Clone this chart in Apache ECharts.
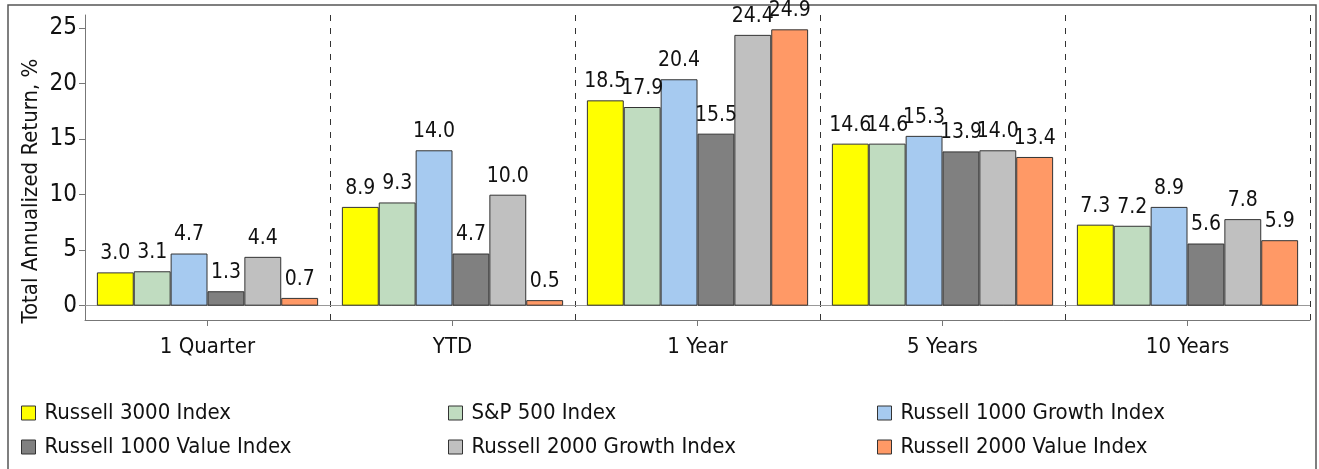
<!DOCTYPE html>
<html>
<head>
<meta charset="utf-8">
<script src="https://cdn.jsdelivr.net/npm/echarts@6/dist/echarts.min.js"></script>
<style>
html,body{margin:0;padding:0;background:#fff;}
#chart{width:1319px;height:469px;}
</style>
</head>
<body>
<div id="chart"></div>
<script>
var categories = ['1 Quarter', 'YTD', '1 Year', '5 Years', '10 Years'];
var seriesNames = ['Russell 3000 Index', 'S&P 500 Index', 'Russell 1000 Growth Index',
                   'Russell 1000 Value Index', 'Russell 2000 Growth Index', 'Russell 2000 Value Index'];
var russell3000 = [3.0, 8.9, 18.5, 14.6, 7.3];
var sp500 = [3.1, 9.3, 17.9, 14.6, 7.2];
var russell1000Growth = [4.7, 14.0, 20.4, 15.3, 8.9];
var russell1000Value = [1.3, 4.7, 15.5, 13.9, 5.6];
var russell2000Growth = [4.4, 10.0, 24.4, 14.0, 7.8];
var russell2000Value = [0.7, 0.5, 24.9, 13.4, 5.9];
var yTickValues = [0, 5, 10, 15, 20, 25];
var yTitle = 'Total Annualized Return, %';

var seriesData = [russell3000, sp500, russell1000Growth, russell1000Value, russell2000Growth, russell2000Value];
var colors = ['#FFFF00', '#C0DCC0', '#A6CAF0', '#808080', '#C0C0C0', '#FF9966'];
var FONT = "'Liberation Sans Narrow', 'Arial Narrow', 'DejaVu Sans Condensed', sans-serif";

var chart = echarts.init(document.getElementById('chart'), null, {renderer: 'canvas'});

var series = seriesNames.map(function (name, i) {
  var s = {
    name: name,
    type: 'bar',
    data: seriesData[i],
    barGap: '0%',
    barCategoryGap: '9.7%',
    itemStyle: {color: colors[i], borderColor: '#333333', borderWidth: 1},
    label: {
      show: true, position: 'top', distance: 8,
      fontFamily: FONT, fontSize: 21, color: '#111',
      formatter: function (p) { return p.value.toFixed(1); }
    },
    emphasis: {disabled: true},
    z: 3
  };
  if (i === 0) {
    s.markLine = {
      silent: true, symbol: 'none', label: {show: false},
      lineStyle: {color: '#999999', type: 'solid', width: 1},
      data: [{yAxis: 0}],
      z: 1
    };
  }
  return s;
});

function legendCol(left, names) {
  return {
    left: left, top: 402, orient: 'vertical', itemGap: 12, padding: 0,
    itemWidth: 14, itemHeight: 14, selectedMode: false, icon: 'rect',
    itemStyle: {borderColor: '#333', borderWidth: 1},
    textStyle: {fontFamily: FONT, fontSize: 22, color: '#111', padding: [0, 0, 0, 4]},
    data: names
  };
}

chart.setOption({
  animation: false,
  backgroundColor: '#fff',
  color: colors,
  grid: {left: 85, right: 9, top: 15, bottom: 149, containLabel: false},
  legend: [
    legendCol(21, [seriesNames[0], seriesNames[3]]),
    legendCol(448, [seriesNames[1], seriesNames[4]]),
    legendCol(877, [seriesNames[2], seriesNames[5]])
  ],
  xAxis: {
    type: 'category', data: categories,
    axisLine: {show: true, onZero: false, lineStyle: {color: '#777', width: 1}},
    axisTick: {show: true, alignWithLabel: true, length: 6, lineStyle: {color: '#777'}},
    axisLabel: {fontFamily: FONT, fontSize: 22, color: '#111', margin: 16},
    splitLine: {show: true, lineStyle: {color: '#333', type: [6, 7], width: 1}}
  },
  yAxis: {
    type: 'value', min: -1.29, max: 26.19,
    axisLine: {show: true, lineStyle: {color: '#777', width: 1}},
    axisTick: {show: true, length: 6, customValues: yTickValues, lineStyle: {color: '#777'}},
    axisLabel: {fontFamily: FONT, fontSize: 24, color: '#111', margin: 8, customValues: yTickValues},
    splitLine: {show: false}
  },
  graphic: [
    {type: 'rect', shape: {x: 8, y: 5, width: 1308, height: 480}, style: {fill: null, stroke: '#555', lineWidth: 1.5}, z: 0, silent: true},
    {type: 'text', x: 31, y: 191, rotation: Math.PI / 2,
     style: {text: yTitle, fontFamily: FONT, fontSize: 22, fill: '#111', align: 'center', verticalAlign: 'middle'}, silent: true}
  ],
  series: series
});
</script>
</body>
</html>
